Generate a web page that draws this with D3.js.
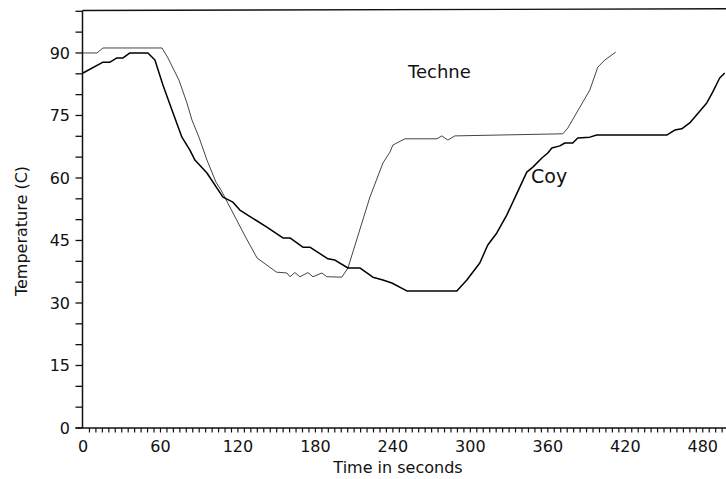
<!DOCTYPE html>
<html><head><meta charset="utf-8">
<script src="https://cdn.jsdelivr.net/npm/d3@7"></script>
<style>
html,body{margin:0;padding:0;background:#fff;}
svg{display:block;}
text{font-family:"DejaVu Sans",Arial,sans-serif;fill:#111;}
</style></head>
<body><svg id="chart" width="726" height="479"></svg>
<script>
// ---- data ----
const techneTime = [0,10.8,15.5,61.2,65.8,74.3,80.5,84.4,89.8,96.0,103.0,106.9,126.3,134.8,149.9,157.9,160.3,164.1,168.0,174.2,178.1,185.0,188.9,200.5,205.2,222.2,232.3,237.7,240.0,249.3,274.1,277.9,282.6,288.0,371.6,375.5,392.5,398.7,404.1,412.6];
const techneTemp = [90,90,91.2,91.2,88.8,83.5,78.0,73.9,69.8,64.3,59.0,57.1,45.6,40.8,37.4,37.2,36.3,37.3,36.3,37.3,36.3,37.2,36.3,36.2,38.4,55.4,63.6,66.2,67.9,69.4,69.4,70.1,69.1,70.1,70.6,72.0,81.1,86.6,88.3,90.2];
const coyTime = [0,15.5,20.9,26.3,31.0,36.4,50.3,55.7,61.9,68.9,76.6,82.8,86.7,96.0,108.4,116.1,121.5,142.4,154.8,160.3,170.3,175.7,189.7,195.1,205.2,214.4,224.5,232.3,239.2,250.8,289.5,297.3,307.3,313.5,320.5,328.2,338.3,343.7,348.4,355.4,360.0,363.1,369.3,373.2,379.3,383.2,392.5,397.9,452.1,458.3,463.7,469.9,483.1,487.7,493.1,497.0];
const coyTemp = [85.2,87.8,87.8,88.8,88.8,90.0,90.0,88.3,82.3,76.3,69.8,66.7,64.3,61.2,55.4,54.2,52.3,48.2,45.6,45.6,43.4,43.4,40.6,40.3,38.4,38.4,36.2,35.5,34.8,32.9,32.9,35.5,39.6,43.9,46.8,51.1,57.8,61.4,62.6,64.8,66.0,67.2,67.7,68.4,68.4,69.6,69.8,70.3,70.3,71.5,71.8,73.2,78.0,80.6,84.0,85.2];
const timeLabels = [0,60,120,180,240,300,360,420,480];
const tempLabels = [0,15,30,45,60,75,90];
const seriesNames = ["Techne","Coy"];
const xTitle = "Time in seconds";
const yTitle = "Temperature (C)";

// ---- scales ----
const svg = d3.select("#chart");
const x = d3.scaleLinear().domain([0,498]).range([83,726]);
const y = d3.scaleLinear().domain([0,100]).range([428,11.3]);
const axisX = 82.5;

// top frame line
svg.append("line").attr("x1",axisX).attr("x2",726)
  .attr("y1",y(100.2)).attr("y2",y(100.6))
  .attr("stroke","#111").attr("stroke-width",1.4);

// y axis
const gy = svg.append("g");
gy.append("line").attr("x1",axisX).attr("x2",axisX).attr("y1",y(100.2)).attr("y2",y(0))
  .attr("stroke","#111").attr("stroke-width",1.5);
gy.selectAll("line.tk").data(d3.range(0,101,5)).join("line").attr("class","tk")
  .attr("x1",axisX-7).attr("x2",axisX).attr("y1",d=>y(d)).attr("y2",d=>y(d))
  .attr("stroke","#111").attr("stroke-width",1.3);
gy.selectAll("text").data(tempLabels).join("text")
  .attr("x",70).attr("y",d=>y(d)).attr("dy","0.36em").attr("text-anchor","end")
  .attr("font-size",16).text(d=>d);

// x axis
const gx = svg.append("g");
gx.append("line").attr("x1",axisX-7).attr("x2",726).attr("y1",y(0)).attr("y2",y(0))
  .attr("stroke","#111").attr("stroke-width",1.5);
gx.selectAll("line.tk").data(d3.range(5,498,5)).join("line").attr("class","tk")
  .attr("x1",d=>x(d)).attr("x2",d=>x(d)).attr("y1",y(0)).attr("y2",y(0)+4.5)
  .attr("stroke","#111").attr("stroke-width",1.2);
gx.selectAll("text").data(timeLabels).join("text")
  .attr("x",d=>x(d)).attr("y",451.5).attr("text-anchor","middle")
  .attr("font-size",16).text(d=>d);

// titles
svg.append("text").attr("x",398).attr("y",473).attr("text-anchor","middle")
  .attr("font-size",16).text(xTitle);
svg.append("text").attr("transform","translate(27,231) rotate(-90)")
  .attr("text-anchor","middle").attr("font-size",16).text(yTitle);

// lines
const line = d3.line().x(d=>x(d[0])).y(d=>y(d[1]));
const techne = techneTime.map((t,i)=>[t,techneTemp[i]]);
const coy = coyTime.map((t,i)=>[t,coyTemp[i]]);
svg.append("path").attr("d",line(techne)).attr("fill","none")
  .attr("stroke","#444").attr("stroke-width",1.0).attr("stroke-linejoin","round");
svg.append("path").attr("d",line(coy)).attr("fill","none")
  .attr("stroke","#000").attr("stroke-width",1.5).attr("stroke-linejoin","round");

// series labels
svg.append("text").attr("x",408).attr("y",77.7).attr("font-size",18).text(seriesNames[0]);
svg.append("text").attr("x",531).attr("y",183).attr("font-size",19).text(seriesNames[1]);
</script></body></html>
